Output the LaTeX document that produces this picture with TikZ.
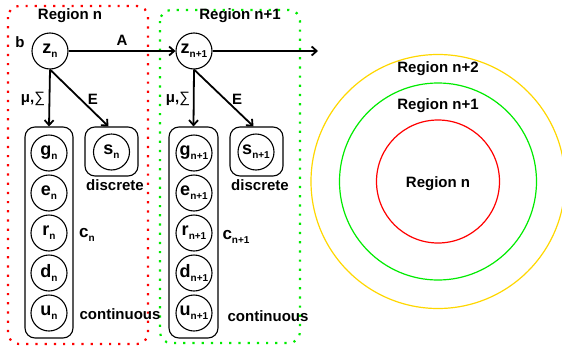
\documentclass[tikz,border=0pt]{standalone}
\usepackage{fontspec}
\setmainfont{Liberation Sans}
\usetikzlibrary{arrows.meta,calc}
\newcommand{\vlab}[2]{#1\raisebox{-4pt}{\fontsize{10}{10}\selectfont #2}}
\newcommand{\plab}[2]{#1\raisebox{-4pt}{\fontsize{10}{10}\selectfont #2}}
\definecolor{dotred}{RGB}{255,0,0}
\definecolor{dotgreen}{RGB}{0,235,0}
\definecolor{ringyellow}{RGB}{255,215,0}
\begin{document}
\begin{tikzpicture}[x=1pt,y=-1pt,
  every node/.style={font=\fontsize{15}{15}\selectfont\bfseries},
  var/.style={circle, draw, line width=1.1pt, minimum size=36pt, inner sep=0pt,
              font=\fontsize{18}{18}\selectfont\bfseries},
  plate/.style={draw, rounded corners=10pt, line width=1.1pt, inner sep=0pt},
  arr/.style={-{Straight Barb[length=5pt,width=9pt]}, line width=1.8pt},
  region/.style={line width=2.2pt, dash pattern=on 2.2pt off 7pt, rounded corners=11pt},
  ring/.style={line width=1.2pt}
]
\useasboundingbox (0,0) rectangle (562,351);

% dotted region frames
\draw[region, dotred] (8,6) rectangle (148,344);
\draw[region, dotgreen] (160,10) rectangle (300,343);
\node (regn) at (70,16) {Region n};
\node (regn1) at (240,16) {Region n+1};
\node (b) at (20,42) {b};

% region n
\node[var] (zn) at (50,51) {\vlab{z}{n}};
\node[plate, minimum width=48pt, minimum height=211pt] (cn) at (49,232.5) {};
\node[plate, minimum width=53pt, minimum height=49pt] (sn) at (111.5,151.5) {};
\node[var] (gn) at (49,153) {\vlab{g}{n}};
\node[var] (en) at (49,193) {\vlab{e}{n}};
\node[var] (rn) at (49,233) {\vlab{r}{n}};
\node[var] (dn) at (49,273) {\vlab{d}{n}};
\node[var] (un) at (49,313) {\vlab{u}{n}};
\node[var] (ssn) at (111.5,152) {\vlab{s}{n}};
\node (discn) at (115,185) {discrete};
\node (contn) at (120,314) {continuous};
\node[font=\fontsize{17}{17}\selectfont\bfseries] (labcn) at (87,235) {\plab{c}{n}};
\draw[arr] (zn.south) -- (cn.north);
\draw[arr] (zn.south) -- ($(sn.north)+(-3,0)$);
\node (mun) at (33,99) {μ,{\mdseries ∑}};
\node (en1) at (93,99) {E};

% region n+1
\node[var] (zm) at (194,51) {\vlab{z}{n+1}};
\node[plate, minimum width=49pt, minimum height=211pt] (cm) at (193.5,232.5) {};
\node[plate, minimum width=53pt, minimum height=49pt] (sm) at (256.5,151.5) {};
\node[var] (gm) at (194,153) {\vlab{g}{n+1}};
\node[var] (em) at (194,193) {\vlab{e}{n+1}};
\node[var] (rm) at (194,233) {\vlab{r}{n+1}};
\node[var] (dm) at (194,273) {\vlab{d}{n+1}};
\node[var] (um) at (194,313) {\vlab{u}{n+1}};
\node[var] (ssm) at (256,152) {\vlab{s}{n+1}};
\node (discm) at (260,185) {discrete};
\node (contm) at (268,316) {continuous};
\node[font=\fontsize{17}{17}\selectfont\bfseries] (labcm) at (236,237) {\plab{c}{n+1}};
\draw[arr] (zm.south) -- (cm.north);
\draw[arr] (zm.south) -- ($(sm.north)+(-3,0)$);
\node (mum) at (178,99) {μ,{\mdseries ∑}};
\node (em1) at (237,99) {E};

% transitions
\coordinate (zend) at (318,51);
\draw[arr] (zn) -- node[above=1pt] (lA) {A} (zm);
\draw[arr] (zm) -- (zend);

% nested regions
\coordinate (ctr) at (438,181.5);
\draw[ring, ringyellow] (ctr) circle[radius=127pt];
\draw[ring, dotgreen] (ctr) circle[radius=98.5pt];
\draw[ring, dotred] (ctr) circle[radius=61.5pt];
\node (r2) at (438,69) {Region n+2};
\node (r1) at (438,106) {Region n+1};
\node (r0) at (438,184) {Region n};
\end{tikzpicture}
\end{document}
